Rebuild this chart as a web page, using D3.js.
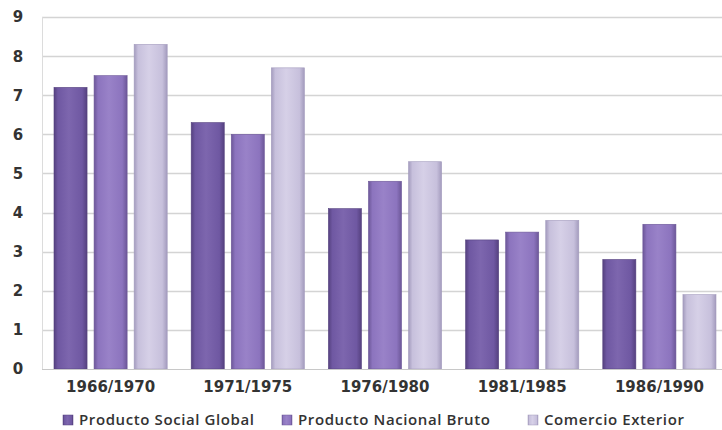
<!DOCTYPE html>
<html>
<head>
<meta charset="utf-8">
<script src="https://cdn.jsdelivr.net/npm/d3@7"></script>
<style>
  body { margin: 0; background: #fff; }
  svg { display: block; }
</style>
</head>
<body>
<div id="chart"></div>
<script>
// data
var periods = ["1966/1970", "1971/1975", "1976/1980", "1981/1985", "1986/1990"];
var seriesNames = ["Producto Social Global", "Producto Nacional Bruto", "Comercio Exterior"];
var socialGlobal = [7.2, 6.3, 4.1, 3.3, 2.8];
var nacionalBruto = [7.5, 6.0, 4.8, 3.5, 3.7];
var comercioExterior = [8.3, 7.7, 5.3, 3.8, 1.9];
var yTicks = [0, 1, 2, 3, 4, 5, 6, 7, 8, 9];

var seriesValues = [socialGlobal, nacionalBruto, comercioExterior];
var colors = [
  {mid: "#6f58a2", dark: "#55417f", light: "#7d66ae"},
  {mid: "#8c74be", dark: "#6c5798", light: "#9982c8"},
  {mid: "#c7c0dc", dark: "#a39bbd", light: "#d6d0e7"}
];

var W = 722, H = 430;
var plotLeft = 42, plotRight = 728, plotTop = 17, plotBottom = 369;

var svg = d3.select("#chart").append("svg")
    .attr("width", W)
    .attr("height", H);

// gradients for the bars
var defs = svg.append("defs");
colors.forEach(function(c, i) {
  var g = defs.append("linearGradient")
      .attr("id", "grad" + i)
      .attr("x1", "0").attr("x2", "1").attr("y1", "0").attr("y2", "0");
  g.append("stop").attr("offset", "0%").attr("stop-color", c.dark);
  g.append("stop").attr("offset", "12%").attr("stop-color", c.mid);
  g.append("stop").attr("offset", "45%").attr("stop-color", c.light);
  g.append("stop").attr("offset", "85%").attr("stop-color", c.mid);
  g.append("stop").attr("offset", "100%").attr("stop-color", c.dark);
});

var x0 = d3.scaleBand().domain(periods).range([plotLeft, plotRight]).padding(0);
var x1 = d3.scaleBand().domain(d3.range(3))
    .range([12, x0.bandwidth() - 12])
    .paddingInner(0.175).paddingOuter(0);
var y = d3.scaleLinear().domain([0, 9]).range([plotBottom, plotTop]);

// grid lines
svg.append("g")
  .selectAll("line")
  .data(yTicks.filter(function(d) { return d > 0; }))
  .enter().append("line")
    .attr("x1", plotLeft).attr("x2", W)
    .attr("y1", function(d) { return Math.round(y(d)) + 0.5; })
    .attr("y2", function(d) { return Math.round(y(d)) + 0.5; })
    .attr("stroke", "#d4d4d4")
    .attr("stroke-width", 1.3);

// left border
svg.append("line")
  .attr("x1", plotLeft + 0.5).attr("x2", plotLeft + 0.5)
  .attr("y1", plotTop).attr("y2", plotBottom)
  .attr("stroke", "#dcdcdc");

// bars
var groups = svg.append("g")
  .selectAll("g")
  .data(periods)
  .enter().append("g")
    .attr("transform", function(d) { return "translate(" + x0(d) + ",0)"; });

groups.selectAll("rect")
  .data(function(d, i) { return seriesValues.map(function(s, k) { return {k: k, v: s[i]}; }); })
  .enter().append("rect")
    .attr("x", function(d) { return x1(d.k); })
    .attr("width", x1.bandwidth())
    .attr("y", function(d) { return y(d.v); })
    .attr("height", function(d) { return y(0) - y(d.v); })
    .attr("fill", function(d) { return "url(#grad" + d.k + ")"; })
    .attr("stroke", function(d) { return colors[d.k].dark; })
    .attr("stroke-width", 0.6);

// baseline
svg.append("line")
  .attr("x1", plotLeft).attr("x2", W)
  .attr("y1", plotBottom + 0.5).attr("y2", plotBottom + 0.5)
  .attr("stroke", "#c8c8c8");

// y tick labels
svg.append("g")
  .selectAll("text")
  .data(yTicks)
  .enter().append("text")
    .attr("x", 18)
    .attr("y", function(d) { return y(d); })
    .attr("dy", "0.36em")
    .attr("text-anchor", "middle")
    .style("font-family", "DejaVu Sans, sans-serif")
    .style("font-weight", "bold")
    .style("font-size", "15px")
    .style("fill", "#333")
    .text(function(d) { return d; });

// x labels
svg.append("g")
  .selectAll("text")
  .data(periods)
  .enter().append("text")
    .attr("x", function(d) { return x0(d) + 12 + (x0.bandwidth() - 24) / 2; })
    .attr("y", 392)
    .attr("text-anchor", "middle")
    .style("font-family", "DejaVu Sans, sans-serif")
    .style("font-weight", "bold")
    .style("font-size", "15px")
    .style("fill", "#333")
    .text(function(d) { return d; });

// legend
var legendX = [63, 282, 528];
var legend = svg.append("g")
  .selectAll("g")
  .data(seriesNames)
  .enter().append("g")
    .attr("transform", function(d, i) { return "translate(" + legendX[i] + ",415)"; });

legend.append("rect")
  .attr("width", 10).attr("height", 10)
  .attr("fill", function(d, i) { return "url(#grad" + i + ")"; })
  .attr("stroke", function(d, i) { return colors[i].dark; })
  .attr("stroke-width", 0.5);

legend.append("text")
  .attr("x", 16)
  .attr("y", 5)
  .attr("dy", "0.34em")
  .style("font-family", "Open Sans, sans-serif")
  .style("font-weight", "600")
  .style("font-size", "15px")
  .style("letter-spacing", "0.6px")
  .style("fill", "#333")
  .text(function(d) { return d; });
</script>
</body>
</html>
